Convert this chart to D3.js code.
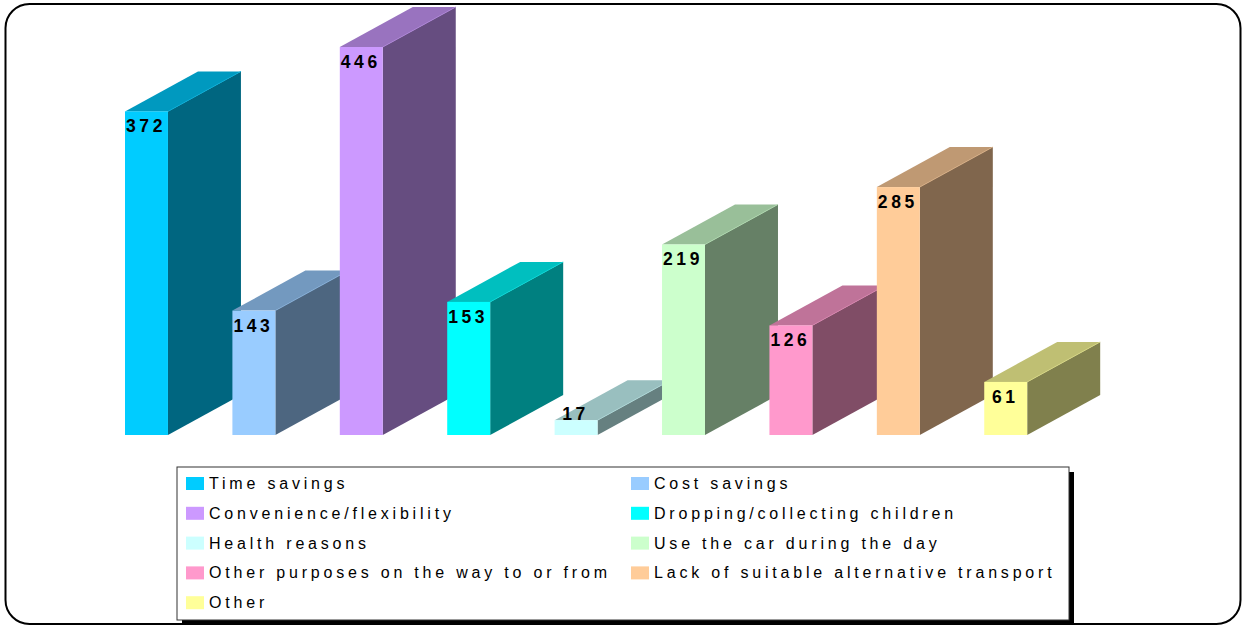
<!DOCTYPE html>
<html>
<head>
<meta charset="utf-8">
<script src="https://cdn.jsdelivr.net/npm/d3@7"></script>
<style>
  html, body { margin: 0; padding: 0; background: #fff; }
  svg { display: block; font-family: "Liberation Sans", Arial, sans-serif; }
</style>
</head>
<body>
<svg id="chart" width="1243" height="625"></svg>
<script>
// Reasons for using the car
const categories = [
  "Time savings", "Cost savings", "Convenience/flexibility",
  "Dropping/collecting children", "Health reasons", "Use the car during the day",
  "Other purposes on the way to or from", "Lack of suitable alternative transport", "Other"
];
const values = [372, 143, 446, 153, 17, 219, 126, 285, 61];
const frontColors = ["#00CCFF", "#99CCFF", "#CC99FF", "#00FFFF", "#CCFFFF", "#CCFFCC", "#FF99CC", "#FFCC99", "#FFFF99"];

const svg = d3.select("#chart");
const W = 1243, H = 625;

// outer rounded frame
svg.append("rect")
  .attr("x", 5.5).attr("y", 4).attr("width", W - 8).attr("height", H - 5)
  .attr("rx", 24).attr("ry", 24)
  .attr("fill", "#fff").attr("stroke", "#000").attr("stroke-width", 2);

const baseY = 435;
const x = d3.scaleBand().domain(categories).range([125, 1027.2]).paddingInner(0.6).paddingOuter(0);
const y = d3.scaleLinear().domain([0, 446]).range([baseY, 47]);
const depthX = 73, depthY = -40;

function shade(c, k) {
  const col = d3.rgb(c);
  return d3.rgb(col.r * k, col.g * k, col.b * k).formatHex();
}

const bars = svg.append("g").selectAll("g.bar")
  .data(categories.map((c, i) => ({ cat: c, v: values[i], color: frontColors[i] })))
  .join("g").attr("class", "bar");

bars.each(function(d) {
  const g = d3.select(this);
  const x0 = x(d.cat), x1 = x0 + x.bandwidth();
  const yt = y(d.v), yb = y(0);
  // right side face
  g.append("path")
    .attr("d", `M${x1},${yt} L${x1 + depthX},${yt + depthY} L${x1 + depthX},${yb + depthY} L${x1},${yb} Z`)
    .attr("fill", shade(d.color, 0.5));
  // top face
  g.append("path")
    .attr("d", `M${x0},${yt} L${x0 + depthX},${yt + depthY} L${x1 + depthX},${yt + depthY} L${x1},${yt} Z`)
    .attr("fill", shade(d.color, 0.75));
  // edge highlight between top and side
  g.append("line")
    .attr("x1", x1).attr("y1", yt).attr("x2", x1 + depthX).attr("y2", yt + depthY)
    .attr("stroke", shade(d.color, 0.85)).attr("stroke-width", 0.8);
  // front face
  g.append("rect")
    .attr("x", x0).attr("y", yt).attr("width", x.bandwidth()).attr("height", yb - yt)
    .attr("fill", d.color);
  // value label
  g.append("text")
    .attr("x", x0 + x.bandwidth() / 2 - 0.5)
    .attr("y", Math.min(yt + 21, yb - 15))
    .attr("text-anchor", "middle")
    .attr("font-size", 17.5).attr("font-weight", "bold")
    .attr("letter-spacing", "3.6px")
    .attr("fill", "#000")
    .text(d.v);
});

// legend
const lg = svg.append("g");
const lx = 177, ly = 467, lw = 892, lh = 153;
lg.append("rect").attr("x", lx + 5).attr("y", ly + 5).attr("width", lw).attr("height", lh).attr("fill", "#000");
lg.append("rect").attr("x", lx).attr("y", ly).attr("width", lw).attr("height", lh)
  .attr("fill", "#fff").attr("stroke", "#333").attr("stroke-width", 1);

const colX = [186, 631];
const rowY0 = 477, rowStep = 29.8;
categories.forEach((c, i) => {
  const col = i % 2, row = Math.floor(i / 2);
  const sx = colX[col], sy = rowY0 + row * rowStep;
  lg.append("rect").attr("x", sx).attr("y", sy).attr("width", 18).attr("height", 13).attr("fill", frontColors[i]);
  lg.append("text")
    .attr("x", sx + 23).attr("y", sy + 12)
    .attr("font-size", 16).attr("letter-spacing", "3.8px").attr("fill", "#000")
    .text(c);
});
</script>
</body>
</html>
